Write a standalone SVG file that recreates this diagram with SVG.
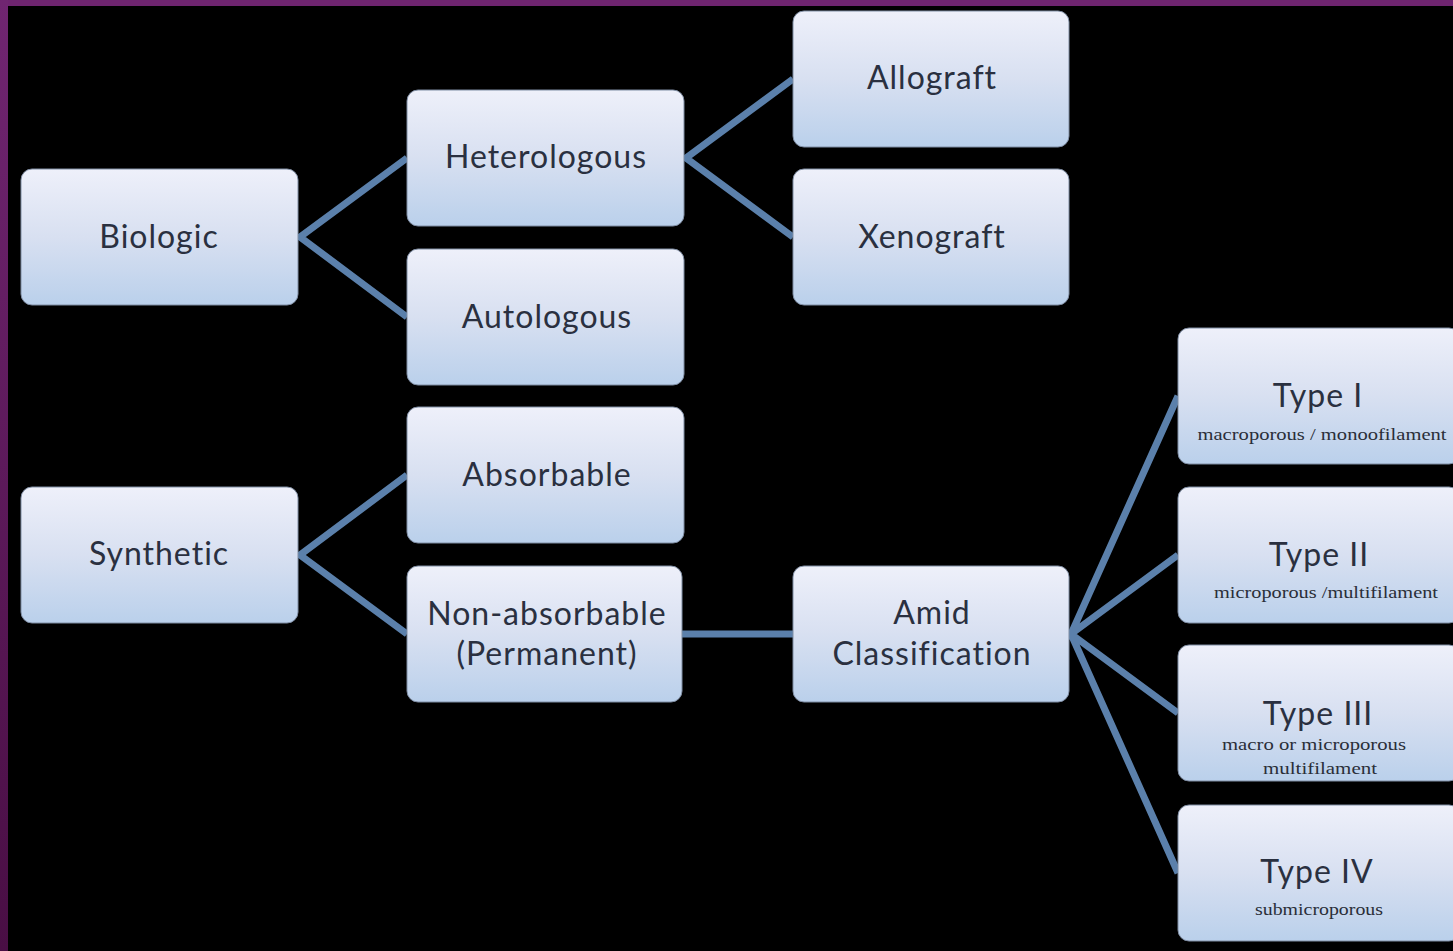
<svg xmlns="http://www.w3.org/2000/svg" width="1453" height="951" viewBox="0 0 1453 951">
<defs>
<linearGradient id="boxg" x1="0" y1="0" x2="0" y2="1">
<stop offset="0" stop-color="#eef0fa"/>
<stop offset="0.5" stop-color="#d8e0f1"/>
<stop offset="1" stop-color="#bad0eb"/>
</linearGradient>
<linearGradient id="leftg" x1="0" y1="0" x2="0" y2="1">
<stop offset="0" stop-color="#702571"/>
<stop offset="1" stop-color="#490e44"/>
</linearGradient>
</defs>
<style>
.box{fill:url(#boxg);stroke:#7f8da3;stroke-width:1}
.t{font-family:Lato,"Open Sans",sans-serif;font-size:32px;letter-spacing:1px;fill:#2a3040;text-anchor:middle}
.s{font-family:"Liberation Serif",serif;font-size:16px;fill:#2a2e38;text-anchor:middle}
.c{stroke:#5b80ab;stroke-width:7;fill:none;stroke-linecap:butt}
</style>
<rect x="0" y="0" width="1453" height="951" fill="#000"/>
<rect x="0" y="0" width="1453" height="6" fill="#6e246f"/>
<rect x="0" y="0" width="8" height="951" fill="url(#leftg)"/>
<g id="connectors">
<path class="c" d="M407,158 L300,237 L407,317"/>
<path class="c" d="M793,79 L686,158 L793,237"/>
<path class="c" d="M407,475 L300,555 L407,634"/>
<path class="c" d="M682,634 L793,634"/>
<path class="c" d="M1178,396 L1071,634 L1178,555 M1071,634 L1178,713 M1071,634 L1178,873"/>
</g>
<g id="biologic"><rect class="box" x="21" y="169" width="277" height="136" rx="11"/><text class="t" x="159" y="248">Biologic</text></g>
<g id="heterologous"><rect class="box" x="407" y="90" width="277" height="136" rx="11"/><text class="t" x="546" y="168">Heterologous</text></g>
<g id="autologous"><rect class="box" x="407" y="249" width="277" height="136" rx="11"/><text class="t" x="547" y="328">Autologous</text></g>
<g id="allograft"><rect class="box" x="793" y="11" width="276" height="136" rx="11"/><text class="t" x="932" y="89">Allograft</text></g>
<g id="xenograft"><rect class="box" x="793" y="169" width="276" height="136" rx="11"/><text class="t" x="932" y="248">Xenograft</text></g>
<g id="synthetic"><rect class="box" x="21" y="487" width="277" height="136" rx="11"/><text class="t" x="159" y="565">Synthetic</text></g>
<g id="absorbable"><rect class="box" x="407" y="407" width="277" height="136" rx="11"/><text class="t" x="547" y="486">Absorbable</text></g>
<g id="nonabsorbable"><rect class="box" x="407" y="566" width="275" height="136" rx="11"/><text class="t" x="547" y="625">Non-absorbable</text><text class="t" x="547" y="665">(Permanent)</text></g>
<g id="amid"><rect class="box" x="793" y="566" width="276" height="136" rx="11"/><text class="t" x="932" y="624">Amid</text><text class="t" x="932" y="665">Classification</text></g>
<g id="type1"><rect class="box" x="1178" y="328" width="282" height="136" rx="11"/><text class="t" x="1318" y="407">Type I</text><text class="s" x="1322" y="440" textLength="249" lengthAdjust="spacingAndGlyphs">macroporous / monoofilament</text></g>
<g id="type2"><rect class="box" x="1178" y="487" width="282" height="136" rx="11"/><text class="t" x="1319" y="566">Type II</text><text class="s" x="1326" y="598" textLength="224" lengthAdjust="spacingAndGlyphs">microporous /multifilament</text></g>
<g id="type3"><rect class="box" x="1178" y="645" width="282" height="136" rx="11"/><text class="t" x="1318" y="725">Type III</text><text class="s" x="1314" y="750" textLength="184" lengthAdjust="spacingAndGlyphs">macro or microporous</text><text class="s" x="1320" y="774" textLength="114" lengthAdjust="spacingAndGlyphs">multifilament</text></g>
<g id="type4"><rect class="box" x="1178" y="805" width="282" height="136" rx="11"/><text class="t" x="1317" y="883">Type IV</text><text class="s" x="1319" y="915" textLength="128" lengthAdjust="spacingAndGlyphs">submicroporous</text></g>
</svg>
